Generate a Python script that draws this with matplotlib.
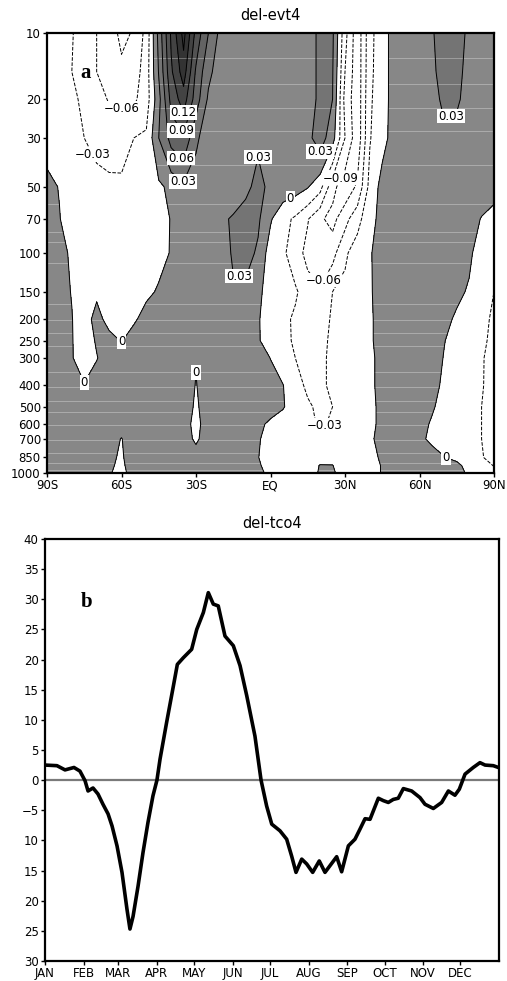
import numpy as np
import matplotlib
matplotlib.use('Agg')
import matplotlib.pyplot as plt

plt.rcParams['font.family'] = ['DejaVu Sans']
plt.rcParams['axes.unicode_minus'] = True

# ---- panel a: del-evt4, latitude x pressure ----
lats = np.arange(-90, 91, 5)
plev = [1000, 925, 850, 700, 600, 500, 400, 300, 250, 200, 150, 100, 70, 50, 30, 20, 15, 10]

evt_1000 = [0.010, 0.010, 0.012, 0.012, 0.012, 0.004, -0.014, 0.020, 0.015, 0.015, 0.015, 0.015, 0.015, 0.015, 0.012, 0.010, 0.008, 0.004, -0.004,
            -0.010, -0.012, -0.008, 0.002, 0.003, -0.010, -0.012, -0.006, 0.001, 0.010, 0.012, 0.012, 0.010, 0.008, 0.004, -0.002, -0.015, -0.025]
evt_925 = [0.010, 0.012, 0.014, 0.014, 0.012, 0.006, -0.008, 0.020, 0.020, 0.018, 0.016, 0.015, 0.015, 0.015, 0.015, 0.012, 0.008, 0.002, -0.006,
           -0.012, -0.015, -0.010, 0.001, 0.0005, -0.010, -0.012, -0.006, 0.001, 0.012, 0.015, 0.015, 0.012, 0.008, 0.004, -0.006, -0.020, -0.031]
evt_850 = [0.010, 0.012, 0.015, 0.015, 0.012, 0.006, -0.004, 0.018, 0.020, 0.018, 0.016, 0.015, 0.010, 0.015, 0.015, 0.012, 0.008, 0.0005, -0.008,
           -0.015, -0.018, -0.015, -0.008, -0.006, -0.012, -0.012, -0.006, 0.003, 0.012, 0.015, 0.012, 0.006, 0.0005, -0.004, -0.012, -0.028, -0.040]
evt_700 = [0.010, 0.012, 0.015, 0.018, 0.015, 0.010, -0.001, 0.015, 0.018, 0.018, 0.015, 0.010, -0.004, 0.012, 0.015, 0.012, 0.008, 0.002, -0.008,
           -0.015, -0.020, -0.025, -0.025, -0.020, -0.015, -0.010, -0.003, 0.006, 0.012, 0.010, 0.003, -0.003, -0.008, -0.012, -0.020, -0.030, -0.040]
evt_600 = [0.010, 0.012, 0.015, 0.018, 0.018, 0.015, 0.010, 0.015, 0.018, 0.020, 0.018, 0.008, -0.006, 0.010, 0.015, 0.015, 0.012, 0.006, -0.005,
           -0.012, -0.018, -0.026, -0.032, -0.028, -0.018, -0.012, -0.005, 0.005, 0.012, 0.012, 0.006, -0.002, -0.008, -0.012, -0.018, -0.030, -0.040]
evt_500 = [0.010, 0.012, 0.016, 0.020, 0.020, 0.018, 0.016, 0.018, 0.020, 0.020, 0.018, 0.010, -0.003, 0.010, 0.015, 0.018, 0.018, 0.015, 0.010,
           0.002, -0.012, -0.026, -0.036, -0.030, -0.020, -0.012, -0.005, 0.005, 0.014, 0.015, 0.010, 0.002, -0.006, -0.010, -0.016, -0.030, -0.040]
evt_400 = [0.008, 0.006, 0.002, 0.001, 0.010, 0.015, 0.018, 0.020, 0.020, 0.020, 0.018, 0.012, -0.001, 0.012, 0.018, 0.020, 0.020, 0.018, 0.010,
           0.001, -0.020, -0.035, -0.035, -0.025, -0.018, -0.012, -0.004, 0.006, 0.015, 0.016, 0.012, 0.005, -0.003, -0.008, -0.014, -0.028, -0.040]
evt_300 = [0.008, 0.006, 0.001, -0.008, -0.001, 0.010, 0.015, 0.018, 0.020, 0.020, 0.018, 0.014, 0.001, 0.014, 0.018, 0.020, 0.020, 0.012, -0.0005,
           -0.015, -0.030, -0.040, -0.034, -0.026, -0.018, -0.012, -0.004, 0.006, 0.015, 0.018, 0.014, 0.008, -0.001, -0.006, -0.012, -0.028, -0.038]
evt_250 = [0.008, 0.005, 0.001, -0.010, 0.002, 0.006, -0.001, 0.010, 0.015, 0.018, 0.018, 0.015, 0.012, 0.015, 0.018, 0.018, 0.015, 0.002, -0.010,
           -0.020, -0.035, -0.045, -0.036, -0.026, -0.018, -0.012, -0.003, 0.008, 0.016, 0.018, 0.015, 0.010, 0.0005, -0.006, -0.012, -0.026, -0.035]
evt_200 = [0.008, 0.004, 0.0005, -0.008, 0.006, -0.006, -0.012, -0.003, 0.008, 0.015, 0.018, 0.018, 0.018, 0.018, 0.020, 0.020, 0.015, 0.002, -0.012,
           -0.022, -0.035, -0.048, -0.040, -0.027, -0.020, -0.012, -0.003, 0.008, 0.018, 0.020, 0.018, 0.012, 0.005, -0.003, -0.010, -0.025, -0.033]
evt_150 = [0.008, 0.004, -0.0005, -0.006, -0.003, -0.008, -0.012, -0.010, -0.004, 0.002, 0.010, 0.015, 0.020, 0.022, 0.025, 0.028, 0.022, 0.005, -0.010,
           -0.018, -0.026, -0.045, -0.055, -0.030, -0.022, -0.012, -0.002, 0.008, 0.018, 0.020, 0.018, 0.014, 0.010, 0.004, -0.002, -0.015, -0.030]
evt_100 = [0.008, 0.004, -0.002, -0.006, -0.010, -0.015, -0.018, -0.015, -0.010, -0.005, 0.001, 0.012, 0.018, 0.020, 0.022, 0.032, 0.042, 0.025, -0.015,
           -0.025, -0.045, -0.070, -0.085, -0.070, -0.035, -0.015, -0.002, 0.010, 0.018, 0.020, 0.020, 0.018, 0.014, 0.010, 0.003, -0.008, -0.015]
evt_70 = [0.004, 0.0005, -0.006, -0.012, -0.020, -0.025, -0.025, -0.020, -0.015, -0.008, 0.001, 0.010, 0.015, 0.020, 0.025, 0.033, 0.045, 0.035, 0.003,
          -0.020, -0.035, -0.058, -0.085, -0.100, -0.070, -0.040, -0.010, 0.010, 0.020, 0.022, 0.022, 0.022, 0.020, 0.015, 0.008, -0.001, -0.008]
evt_50 = [0.003, -0.0005, -0.006, -0.012, -0.018, -0.022, -0.025, -0.025, -0.020, -0.006, 0.008, 0.022, 0.016, 0.012, 0.012, 0.015, 0.022, 0.040, 0.022,
          0.016, 0.012, 0.002, -0.020, -0.080, -0.110, -0.085, -0.020, 0.010, 0.018, 0.020, 0.020, 0.020, 0.020, 0.018, 0.015, 0.010, 0.008]
evt_30 = [-0.004, -0.008, -0.018, -0.030, -0.040, -0.045, -0.040, -0.030, -0.025, 0.030, 0.070, 0.085, 0.035, 0.015, 0.012, 0.012, 0.015, 0.025, 0.020,
          0.015, 0.015, 0.022, 0.045, 0.012, -0.060, -0.110, -0.032, -0.008, 0.010, 0.015, 0.018, 0.022, 0.025, 0.020, 0.015, 0.012, 0.010]
evt_20 = [-0.008, -0.015, -0.025, -0.035, -0.050, -0.062, -0.065, -0.065, -0.045, 0.020, 0.100, 0.135, 0.075, 0.025, 0.012, 0.012, 0.012, 0.012, 0.012,
          0.012, 0.015, 0.020, 0.035, 0.030, -0.070, -0.110, -0.035, -0.010, 0.010, 0.015, 0.018, 0.022, 0.035, 0.034, 0.020, 0.015, 0.012]
evt_15 = [-0.010, -0.018, -0.030, -0.045, -0.060, -0.075, -0.085, -0.075, -0.045, 0.032, 0.115, 0.165, 0.085, 0.037, 0.015, 0.012, 0.012, 0.012, 0.012,
          0.012, 0.015, 0.020, 0.035, 0.032, -0.060, -0.110, -0.038, -0.010, 0.010, 0.015, 0.020, 0.026, 0.038, 0.037, 0.022, 0.016, 0.013]
evt_10 = [-0.012, -0.020, -0.028, -0.045, -0.060, -0.080, -0.095, -0.088, -0.050, 0.040, 0.125, 0.190, 0.110, 0.060, 0.020, 0.012, 0.012, 0.012, 0.012,
          0.012, 0.015, 0.020, 0.035, 0.035, -0.050, -0.110, -0.040, -0.010, 0.010, 0.015, 0.020, 0.028, 0.040, 0.040, 0.025, 0.018, 0.015]

evt = np.array([evt_1000, evt_925, evt_850, evt_700, evt_600, evt_500, evt_400, evt_300, evt_250,
                evt_200, evt_150, evt_100, evt_70, evt_50, evt_30, evt_20, evt_15, evt_10])

fill_levels = [-1, 0, 0.03, 0.06, 0.09, 0.12, 0.15, 1]
fill_colors = ['white', '#878787', '#747474', '#636363', '#525252', '#434343', '#333333']
line_levels = [-0.12, -0.09, -0.06, -0.03, 0, 0.03, 0.06, 0.09, 0.12, 0.15, 0.18]

p_ticks = [10, 20, 30, 50, 70, 100, 150, 200, 250, 300, 400, 500, 600, 700, 850, 1000]
lat_ticks = [-90, -60, -30, 0, 30, 60, 90]
lat_labels = ['90S', '60S', '30S', 'EQ', '30N', '60N', '90N']

# where the contour labels sit, per contour level (lat, hPa)
label_spots = {
    -0.09: [(30, 46.6)],
    -0.06: [(-60, 22), (19.9, 130)],
    -0.03: [(-70, 35), (22.4, 624)],
    0: [(10.3, 64), (-59.8, 256), (-32.4, 304), (-77.5, 424), (70.3, 873)],
    0.03: [(-35.5, 47.5), (-3.4, 32), (16.7, 36.6), (74.3, 25.4), (-13.1, 133)],
    0.06: [(-35.5, 36.6)],
    0.09: [(-35.5, 27.6)],
    0.12: [(-35.5, 23.6)],
}

# ---- panel b: del-tco4 daily series ----
days = [0, 9.6, 16.1, 23.3, 28.1, 32.2, 34.6, 38.6, 42.6, 46.6, 50.7, 53.9, 57.9, 61.9, 65.9, 68.3,
        70.8, 74.8, 78.8, 82.8, 86.8, 90, 92.5, 97.8, 103.2, 106.4, 111.2, 117.9, 122, 127.3, 131.3,
        135.3, 139.3, 144.7, 151.4, 156.8, 162.2, 168.8, 173.7, 178.2, 182.3, 188.9, 194.3, 198.3,
        201.8, 206.4, 210.4, 215.2, 220.5, 225.1, 234.5, 238.5, 243.9, 249.2, 253.3, 257.3, 261.3,
        268, 272, 276, 280, 284, 288.1, 294.8, 301.5, 305.5, 312.2, 318.9, 324.3, 329.6, 333.1,
        337.7, 344.3, 349.7, 353.8, 360.4, 364.5]
tco = [2.5, 2.4, 1.7, 2.1, 1.5, -0.1, -1.8, -1.3, -2.3, -4.0, -5.6, -7.6, -10.9, -15.3, -21.4, -24.7,
       -22.6, -17.6, -12.0, -7.0, -2.6, 0.0, 3.5, 9.6, 15.6, 19.2, 20.3, 21.7, 25.0, 27.8, 31.1,
       29.2, 28.9, 23.9, 22.3, 19.0, 14.0, 7.3, 0.0, -4.3, -7.3, -8.4, -9.8, -12.6,
       -15.3, -13.1, -13.9, -15.3, -13.4, -15.3, -12.7, -15.2, -10.9, -9.8, -8.1, -6.4, -6.5,
       -3.0, -3.4, -3.7, -3.2, -3.0, -1.4, -1.8, -2.9, -4.0, -4.7, -3.7, -1.8, -2.5, -1.5,
       1.0, 2.1, 2.9, 2.5, 2.4, 2.1]
month_starts = [0, 31, 59, 90, 120, 151, 181, 212, 243, 273, 304, 334]
month_names = ['JAN', 'FEB', 'MAR', 'APR', 'MAY', 'JUN', 'JUL', 'AUG', 'SEP', 'OCT', 'NOV', 'DEC']
tco_ticks = [-30, -25, -20, -15, -10, -5, 0, 5, 10, 15, 20, 25, 30, 35, 40]
tco_labels = ['30', '25', '20', '15', '10', '\u22125', '0', '5', '10', '15', '20', '25', '30', '35', '40']

fig = plt.figure(figsize=(5.07, 9.81), dpi=100)
W, H = 507, 981
ax1 = fig.add_axes([47 / W, 1 - 473 / H, 447 / W, 440 / H])
ax2 = fig.add_axes([45 / W, 1 - 961 / H, 454 / W, 422 / H])

ax1.contourf(lats, plev, evt, levels=fill_levels, colors=fill_colors, zorder=1)
for p in [13, 17, 22, 28, 40, 60, 80, 89, 111, 171, 202, 232, 265, 347, 405, 469, 526, 605, 708, 811, 898, 969]:
    ax1.axhline(p, color='white', lw=0.6, alpha=0.35, zorder=1.5)
cs = ax1.contour(lats, plev, evt, levels=line_levels, colors='k', linewidths=0.7, zorder=2)
ax1.set_yscale('log')
ax1.set_ylim(1000, 10)
ax1.set_xlim(-90, 90)

lab_fmt = lambda v: ('%g' % round(v, 2)).replace('-', '\u2212')
for lev, spots in label_spots.items():
    # one invisible contour per labelled level, so each label sticks to its own line
    cl = ax1.contour(lats, plev, evt, levels=[lev], colors='k', linewidths=0)
    labs = ax1.clabel(cl, manual=spots, inline=False, fmt=lab_fmt, fontsize=8.5, colors='k')
    for t in labs:
        t.set_rotation(0)
        t.set_bbox(dict(facecolor='white', edgecolor='none', pad=0.6))
        t.set_zorder(5)

ax1.set_yticks(p_ticks)
ax1.set_yticklabels([str(p) for p in p_ticks])
ax1.minorticks_off()
ax1.set_xticks(lat_ticks)
ax1.set_xticklabels(lat_labels)
ax1.text(0.074, 0.898, 'a', transform=ax1.transAxes, fontsize=15, fontweight='bold',
         family='Liberation Serif', ha='left', va='baseline')
fig.text(270 / W, 1 - 15 / H, 'del-evt4', ha='center', va='center', fontsize=10.5)

ax2.axhline(0, color='#7a7a7a', lw=1.6, zorder=1)
ax2.plot(days, tco, color='k', lw=2.6, zorder=2)
ax2.set_xlim(0, 365)
ax2.set_ylim(-30, 40)
ax2.set_xticks(month_starts)
ax2.set_xticklabels(month_names)
ax2.set_yticks(tco_ticks)
ax2.set_yticklabels(tco_labels)
ax2.text(0.079, 0.839, 'b', transform=ax2.transAxes, fontsize=15, fontweight='bold',
         family='Liberation Serif', ha='left', va='baseline')
fig.text(272 / W, 1 - 523 / H, 'del-tco4', ha='center', va='center', fontsize=10.5)

for ax in (ax1, ax2):
    for s in ax.spines.values():
        s.set_linewidth(1.6)
    ax.tick_params(direction='out', length=3, width=1, labelsize=8.5, pad=1.5)

fig.savefig('out.png', dpi=100)
